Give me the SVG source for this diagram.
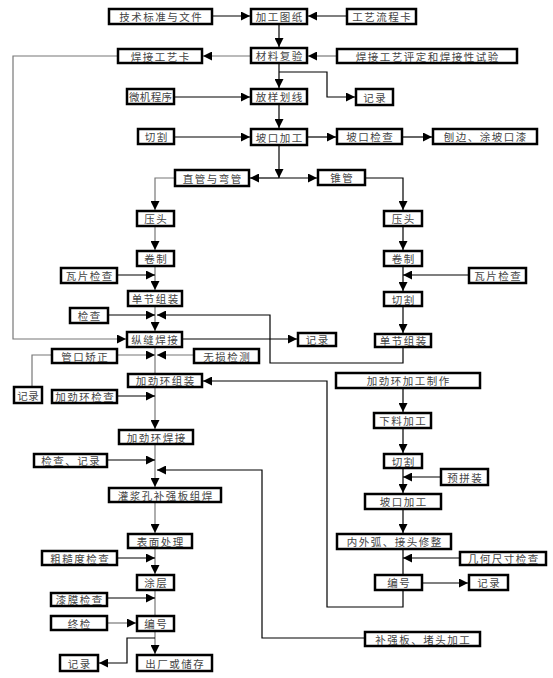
<svg xmlns="http://www.w3.org/2000/svg" width="553" height="678" viewBox="0 0 553 678">
<defs>
<marker id="ah" markerUnits="userSpaceOnUse" markerWidth="9" markerHeight="9" refX="9" refY="4.5" orient="auto">
<path d="M0,0 L9,4.5 L0,9 z" fill="#000"/>
</marker>
<style>
.b{fill:#fff;stroke:#000;stroke-width:2.5}
.t{font-family:"Noto Sans CJK SC","Noto Sans CJK JP",sans-serif;font-size:10.5px;fill:#444;text-anchor:middle;dominant-baseline:central;letter-spacing:1.5px;transform:translateX(0.75px)}
.s{letter-spacing:0.3px;transform:translateX(0.15px)}
.k{fill:none;stroke:#000;stroke-width:1.2}
.g{fill:none;stroke:#777;stroke-width:1.2}
.a{marker-end:url(#ah)}
</style>
</defs>
<rect width="553" height="678" fill="#fff"/>
<g id="connectors">
<path class="k a" d="M213,16 H250"/>
<path class="k a" d="M346,16 H308"/>
<path class="k a" d="M279,25 V47"/>
<path class="g a" d="M250,56 H203"/>
<path class="g a" d="M336,56 H308"/>
<path class="k a" d="M279,64 V88"/>
<path class="k a" d="M279,72 H327 V97 H355"/>
<path class="k a" d="M175,97 H250"/>
<path class="k a" d="M279,105 V128"/>
<path class="k a" d="M175,137 H250"/>
<path class="k a" d="M308,137 H336"/>
<path class="k a" d="M403,137 H432"/>
<path class="k a" d="M279,146 V178"/>
<path class="k a" d="M279,178 H250"/>
<path class="k a" d="M279,178 H317"/>
<path class="g a" d="M174,178 H155 V210"/>
<path class="g a" d="M155,227 V250"/>
<path class="g a" d="M155,267 V290"/>
<path class="k a" d="M118,275 H155"/>
<path class="g a" d="M155,307 V331"/>
<path class="k a" d="M109,315 H155"/>
<path class="k a" d="M403,348 V363 H270 V315 H157"/>
<path class="g a" d="M117,56 H13 V339 H126"/>
<path class="k a" d="M183,339 H297"/>
<path class="g" d="M155,348 V373"/>
<path class="g a" d="M118,355 H155"/>
<path class="g a" d="M193,355 H157"/>
<path class="g" d="M32,386 V355 H51"/>
<path class="g a" d="M155,388 V429"/>
<path class="k a" d="M118,396 H155"/>
<path class="k a" d="M403,591 V607 H327 V381 H203"/>
<path class="g a" d="M155,445 V487"/>
<path class="k a" d="M108,460 H155"/>
<path class="k a" d="M364,638 H262 V470 H157"/>
<path class="g a" d="M155,503 V533"/>
<path class="g a" d="M155,549 V574"/>
<path class="k a" d="M118,558 H155"/>
<path class="g" d="M155,591 V615"/>
<path class="k a" d="M108,598 H155"/>
<path class="g a" d="M108,623 H136"/>
<path class="g a" d="M155,632 V654"/>
<path class="k a" d="M155,638 H127 V663 H99"/>
<path class="k a" d="M366,178 H403 V210"/>
<path class="k a" d="M403,227 V250"/>
<path class="k a" d="M403,267 V291"/>
<path class="k a" d="M468,275 H403"/>
<path class="k a" d="M403,307 V333"/>
<path class="k a" d="M403,389 V412"/>
<path class="k a" d="M403,429 V453"/>
<path class="k a" d="M403,469 V493"/>
<path class="k a" d="M440,477 H403"/>
<path class="k a" d="M403,510 V533"/>
<path class="k" d="M403,550 V574"/>
<path class="k a" d="M459,558 H403"/>
<path class="k a" d="M423,583 H468"/>
</g>
<g id="n1"><rect class="b" x="109" y="9" width="103" height="15"/><text class="t" x="160.5" y="16.5">技术标准与文件</text></g>
<g id="n2"><rect class="b" x="251" y="9" width="56" height="15"/><text class="t" x="279" y="16.5">加工图纸</text></g>
<g id="n3"><rect class="b" x="347" y="9" width="69" height="15"/><text class="t" x="381.5" y="16.5">工艺流程卡</text></g>
<g id="n4"><rect class="b" x="118" y="49" width="84" height="14"/><text class="t" x="160" y="56">焊接工艺卡</text></g>
<g id="n5"><rect class="b" x="251" y="48" width="56" height="15"/><text class="t" x="279" y="55.5">材料复验</text></g>
<g id="n6"><rect class="b" x="337" y="49" width="180" height="14"/><text class="t" x="427" y="56">焊接工艺评定和焊接性试验</text></g>
<g id="n7"><rect class="b" x="127" y="89" width="47" height="15"/><text class="t s" x="150.5" y="96.5">微机程序</text></g>
<g id="n8"><rect class="b" x="251" y="89" width="56" height="15"/><text class="t" x="279" y="96.5">放样划线</text></g>
<g id="n9"><rect class="b" x="356" y="89" width="37" height="16"/><text class="t" x="374.5" y="97">记录</text></g>
<g id="n10"><rect class="b" x="138" y="129" width="36" height="15"/><text class="t" x="156" y="136.5">切割</text></g>
<g id="n11"><rect class="b" x="251" y="129" width="56" height="16"/><text class="t" x="279" y="137">坡口加工</text></g>
<g id="n12"><rect class="b" x="337" y="129" width="65" height="15"/><text class="t" x="369.5" y="136.5">坡口检查</text></g>
<g id="n13"><rect class="b" x="433" y="129" width="104" height="15"/><text class="t" x="485" y="136.5">刨边、涂坡口漆</text></g>
<g id="n14"><rect class="b" x="175" y="170" width="74" height="16"/><text class="t" x="212" y="178">直管与弯管</text></g>
<g id="n15"><rect class="b" x="318" y="170" width="47" height="15"/><text class="t" x="341.5" y="177.5">锥管</text></g>
<g id="n16"><rect class="b" x="137" y="211" width="37" height="15"/><text class="t" x="155.5" y="218.5">压头</text></g>
<g id="n17"><rect class="b" x="137" y="251" width="37" height="15"/><text class="t" x="155.5" y="258.5">卷制</text></g>
<g id="n18"><rect class="b" x="61" y="268" width="56" height="15"/><text class="t" x="89" y="275.5">瓦片检查</text></g>
<g id="n19"><rect class="b" x="128" y="291" width="54" height="15"/><text class="t" x="155" y="298.5">单节组装</text></g>
<g id="n20"><rect class="b" x="70" y="308" width="38" height="15"/><text class="t" x="89" y="315.5">检查</text></g>
<g id="n21"><rect class="b" x="127" y="332" width="55" height="15"/><text class="t" x="154.5" y="339.5">纵缝焊接</text></g>
<g id="n22"><rect class="b" x="298" y="333" width="38" height="13"/><text class="t" x="317" y="339.5">记录</text></g>
<g id="n23"><rect class="b" x="52" y="349" width="65" height="14"/><text class="t" x="84.5" y="356">管口矫正</text></g>
<g id="n24"><rect class="b" x="194" y="349" width="65" height="14"/><text class="t" x="226.5" y="356">无损检测</text></g>
<g id="n25"><rect class="b" x="14" y="387" width="28" height="16"/><text class="t s" x="28" y="395">记录</text></g>
<g id="n26"><rect class="b" x="128" y="374" width="74" height="13"/><text class="t" x="165" y="380.5">加劲环组装</text></g>
<g id="n27"><rect class="b" x="52" y="390" width="65" height="13"/><text class="t" x="84.5" y="396.5">加劲环检查</text></g>
<g id="n28"><rect class="b" x="119" y="430" width="74" height="14"/><text class="t" x="156" y="437">加劲环焊接</text></g>
<g id="n29"><rect class="b" x="34" y="454" width="73" height="13"/><text class="t" x="70.5" y="460.5">检查、记录</text></g>
<g id="n30"><rect class="b" x="109" y="488" width="112" height="14"/><text class="t" x="165" y="495">灌浆孔补强板组焊</text></g>
<g id="n31"><rect class="b" x="128" y="534" width="64" height="14"/><text class="t" x="160" y="541">表面处理</text></g>
<g id="n32"><rect class="b" x="42" y="551" width="75" height="14"/><text class="t" x="79.5" y="558">粗糙度检查</text></g>
<g id="n33"><rect class="b" x="137" y="575" width="37" height="15"/><text class="t" x="155.5" y="582.5">涂层</text></g>
<g id="n34"><rect class="b" x="51" y="593" width="56" height="13"/><text class="t" x="79" y="599.5">漆膜检查</text></g>
<g id="n35"><rect class="b" x="51" y="616" width="56" height="14"/><text class="t" x="79" y="623">终检</text></g>
<g id="n36"><rect class="b" x="137" y="616" width="37" height="15"/><text class="t" x="155.5" y="623.5">编号</text></g>
<g id="n37"><rect class="b" x="60" y="655" width="38" height="16"/><text class="t" x="79" y="663">记录</text></g>
<g id="n38"><rect class="b" x="137" y="655" width="75" height="16"/><text class="t" x="174.5" y="663">出厂或储存</text></g>
<g id="n39"><rect class="b" x="384" y="211" width="38" height="15"/><text class="t" x="403" y="218.5">压头</text></g>
<g id="n40"><rect class="b" x="384" y="251" width="38" height="15"/><text class="t" x="403" y="258.5">卷制</text></g>
<g id="n41"><rect class="b" x="469" y="268" width="57" height="15"/><text class="t" x="497.5" y="275.5">瓦片检查</text></g>
<g id="n42"><rect class="b" x="384" y="292" width="38" height="14"/><text class="t" x="403" y="299">切割</text></g>
<g id="n43"><rect class="b" x="375" y="334" width="56" height="13"/><text class="t" x="403" y="340.5">单节组装</text></g>
<g id="n44"><rect class="b" x="336" y="373" width="144" height="15"/><text class="t" x="408" y="380.5">加劲环加工制作</text></g>
<g id="n45"><rect class="b" x="374" y="413" width="57" height="15"/><text class="t" x="402.5" y="420.5">下料加工</text></g>
<g id="n46"><rect class="b" x="384" y="454" width="38" height="14"/><text class="t" x="403" y="461">切割</text></g>
<g id="n47"><rect class="b" x="441" y="469" width="47" height="16"/><text class="t" x="464.5" y="477">预拼装</text></g>
<g id="n48"><rect class="b" x="365" y="494" width="76" height="15"/><text class="t" x="403" y="501.5">坡口加工</text></g>
<g id="n49"><rect class="b" x="337" y="534" width="114" height="15"/><text class="t" x="394" y="541.5">内外弧、接头修整</text></g>
<g id="n50"><rect class="b" x="460" y="552" width="86" height="13"/><text class="t" x="503" y="558.5">几何尺寸检查</text></g>
<g id="n51"><rect class="b" x="375" y="575" width="47" height="15"/><text class="t" x="398.5" y="582.5">编号</text></g>
<g id="n52"><rect class="b" x="469" y="575" width="39" height="15"/><text class="t" x="488.5" y="582.5">记录</text></g>
<g id="n53"><rect class="b" x="365" y="632" width="115" height="14"/><text class="t" x="422.5" y="639">补强板、堵头加工</text></g>
</svg>
